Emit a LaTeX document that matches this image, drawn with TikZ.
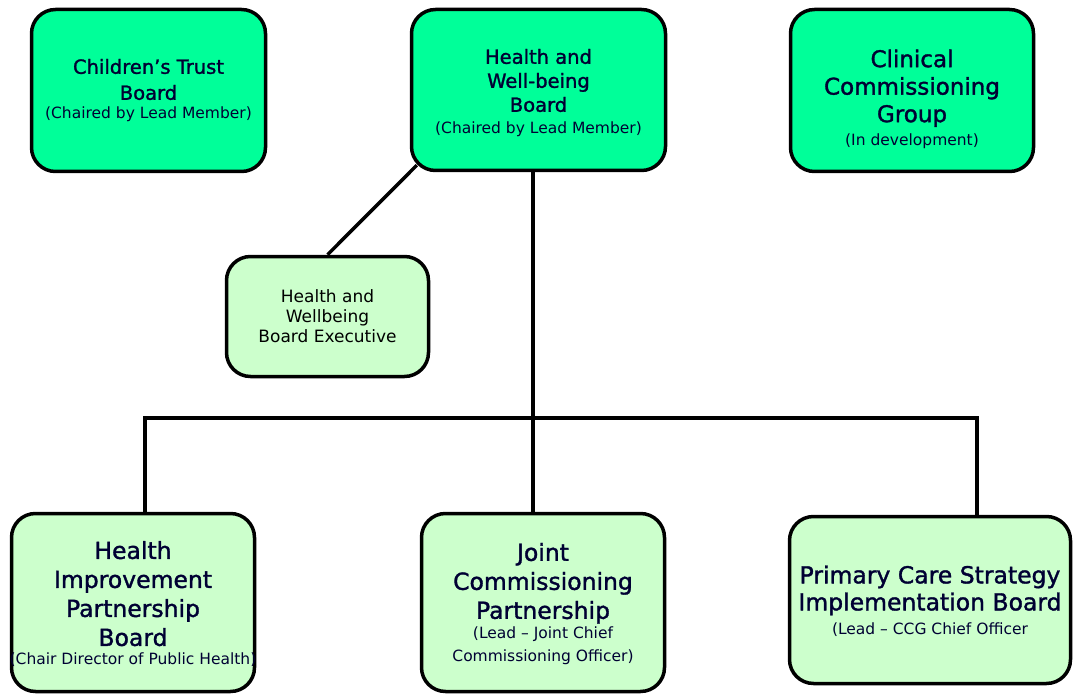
\documentclass[tikz,border=0pt]{standalone}
\usepackage{fontspec}
\setmainfont{DejaVu Sans}
\newfontfamily\titlefont[FakeBold=1.4,Ligatures=TeX]{DejaVu Sans}
\usetikzlibrary{calc,backgrounds}
\definecolor{topgreen}{RGB}{0,255,153}
\definecolor{lowgreen}{RGB}{204,255,204}
\definecolor{navy}{RGB}{0,0,51}
\newcommand{\fsBig}{\titlefont\fontsize{23.5}{29}\selectfont}
\newcommand{\fsCcg}{\titlefont\fontsize{23}{27.5}\selectfont}
\newcommand{\fsPcs}{\titlefont\fontsize{23.5}{27}\selectfont}
\newcommand{\fsMidA}{\titlefont\fontsize{19.5}{26}\selectfont}
\newcommand{\fsMidB}{\titlefont\fontsize{19.5}{24}\selectfont}
\newcommand{\fsExe}{\fontsize{17}{20}\selectfont}
\newcommand{\fsSmall}{\normalfont\fontsize{15.5}{21}\selectfont}
\tikzset{
  box/.style={draw=black, line width=3.5pt, rounded corners=24pt, inner sep=0pt},
  topbox/.style={box, fill=topgreen},
  lowbox/.style={box, fill=lowgreen},
  conn/.style={draw=black, line width=3.5pt},
  lbl/.style={align=center, text=navy, inner sep=0pt},
}
\begin{document}
\begin{tikzpicture}[x=1pt,y=-1pt]
\useasboundingbox (0,0) rectangle (1073,695);
% boxes
\node[topbox, minimum width=234pt, minimum height=162pt] (ctb) at (148.5,90.5) {};
\node[topbox, minimum width=254pt, minimum height=161pt] (hwb) at (538.5,90) {};
\node[topbox, minimum width=243pt, minimum height=162pt] (ccg) at (912,90.5) {};
\node[lowbox, minimum width=202pt, minimum height=120pt] (exe) at (327.5,316.5) {};
\node[lowbox, minimum width=243pt, minimum height=178pt] (hip) at (133,602.5) {};
\node[lowbox, minimum width=243pt, minimum height=178pt] (jcp) at (543,602.5) {};
\node[lowbox, minimum width=281pt, minimum height=167pt] (pcs) at (930,600) {};
% texts
\node[lbl, font=\fsMidA] (ctb-t) at (148.5,90.5) {Children’s Trust\\Board\\[-7pt]\fsSmall (Chaired by Lead Member)};
\node[lbl, font=\fsMidB] (hwb-t) at (538.5,93) {Health and\\Well-being\\Board\\[-2pt]\fsSmall (Chaired by Lead Member)};
\node[lbl, font=\fsCcg] (ccg-t) at (912,99) {Clinical\\Commissioning\\Group\\[-4.5pt]\fsSmall (In development)};
\node[lbl, font=\fsExe, text=black] (exe-t) at (327.5,316) {Health and\\Wellbeing\\Board Executive};
\node[lbl, font=\fsBig] (hip-t) at (133,604) {Health\\Improvement\\Partnership\\Board\\[-10pt]\fsSmall (Chair Director of Public Health)};
\node[lbl, font=\fsBig] (jcp-t) at (543,604) {Joint\\Commissioning\\Partnership\\[-9pt]\fsSmall (Lead -- Joint Chief\\[-6pt]\fsSmall Commissioning Officer)};
\node[lbl, font=\fsPcs] (pcs-t) at (930,601) {Primary Care Strategy\\Implementation Board\\[-3pt]\fsSmall (Lead -- CCG Chief Officer};
% connectors
\coordinate (trunk) at (533,418);
\coordinate (busL) at (145,418);
\coordinate (busR) at (977,418);
\begin{scope}[on background layer]
\draw[conn] ($(hwb.south west)+(7,-7)$) -- (exe.north);
\draw[conn] (hwb.south -| trunk) -- (jcp.north -| trunk);
\draw[conn] (hip.north -| busL) -- (busL) -- (busR) -- (pcs.north -| busR);
\end{scope}
\end{tikzpicture}
\end{document}
